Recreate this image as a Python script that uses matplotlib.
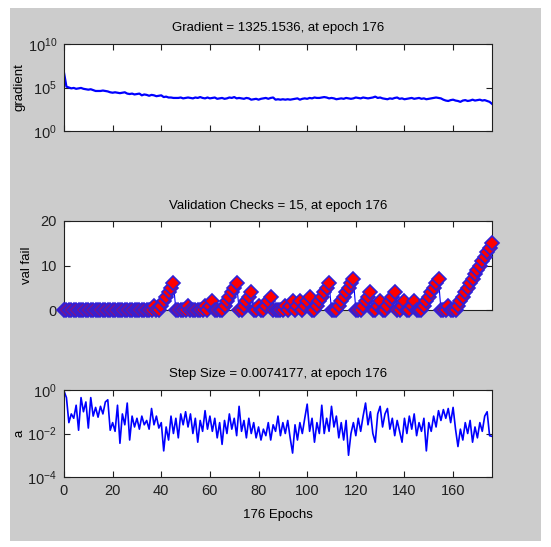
import matplotlib
matplotlib.use('Agg')
import matplotlib.pyplot as plt
import numpy as np
from matplotlib import font_manager
from matplotlib.patches import Rectangle
from matplotlib.ticker import NullLocator

# training record, epochs 0..176
epochs = np.arange(177)

# gradient, stored as log10 values
grad_log10 = [
    6.7, 5.1, 5.0, 4.9, 4.95, 4.85, 4.9, 4.95, 4.85, 4.8,
    4.75, 4.8, 4.7, 4.6, 4.6, 4.6, 4.65, 4.6, 4.55, 4.45,
    4.4, 4.45, 4.4, 4.35, 4.4, 4.45, 4.3, 4.25, 4.3, 4.2,
    4.25, 4.3, 4.1, 4.2, 4.15, 4.05, 4.15, 4.1, 4.0, 4.05,
    4.1, 3.9, 3.95, 3.85, 3.85, 3.8, 3.8, 3.8, 3.85, 3.75,
    3.8, 3.85, 3.8, 3.75, 3.85, 3.8, 3.9, 3.8, 3.75, 3.85,
    3.75, 3.8, 3.85, 3.7, 3.75, 3.8, 3.7, 3.75, 3.85, 3.8,
    3.9, 3.75, 3.8, 3.75, 3.7, 3.8, 3.75, 3.6, 3.65, 3.7,
    3.6, 3.7, 3.75, 3.8, 3.7, 3.8, 3.85, 3.6, 3.65, 3.6,
    3.65, 3.6, 3.65, 3.6, 3.65, 3.7, 3.75, 3.6, 3.7, 3.75,
    3.7, 3.8, 3.75, 3.85, 3.8, 3.8, 3.85, 3.9, 3.85, 3.75,
    3.8, 3.75, 3.65, 3.7, 3.75, 3.7, 3.8, 3.75, 3.7, 3.75,
    3.85, 3.8, 3.75, 3.85, 3.8, 3.75, 3.8, 3.85, 3.95, 3.8,
    3.85, 3.75, 3.7, 3.65, 3.75, 3.7, 3.8, 3.85, 3.7, 3.75,
    3.65, 3.7, 3.75, 3.8, 3.7, 3.75, 3.8, 3.7, 3.75, 3.65,
    3.7, 3.75, 3.8, 3.85, 3.8, 3.75, 3.6, 3.5, 3.45, 3.55,
    3.6, 3.5, 3.45, 3.35, 3.5, 3.55, 3.45, 3.5, 3.6, 3.5,
    3.55, 3.6, 3.5, 3.55, 3.45, 3.35, 3.12,
]

# validation checks
val_fail = [
    0, 0, 0, 0, 0, 0, 0, 0, 0, 0,
    0, 0, 0, 0, 0, 0, 0, 0, 0, 0,
    0, 0, 0, 0, 0, 0, 0, 0, 0, 0,
    0, 0, 0, 0, 0, 0, 0, 1, 0, 0,
    1, 2, 3, 4, 5, 6, 0, 0, 0, 0,
    0, 1, 0, 0, 0, 0, 0, 0, 1, 0,
    1, 2, 0, 0, 0, 0, 1, 2, 3, 4,
    5, 6, 0, 0, 1, 2, 3, 4, 0, 0,
    1, 0, 0, 1, 2, 3, 0, 0, 0, 0,
    0, 1, 0, 1, 2, 0, 1, 2, 0, 1,
    2, 3, 0, 0, 1, 2, 3, 4, 5, 6,
    0, 0, 0, 1, 2, 3, 4, 5, 6, 7,
    0, 0, 0, 1, 2, 3, 4, 0, 0, 1,
    2, 0, 0, 1, 2, 3, 4, 0, 0, 1,
    2, 0, 0, 1, 2, 0, 0, 0, 1, 2,
    3, 4, 5, 6, 7, 0, 0, 0, 1, 0,
    0, 0, 1, 2, 3, 4, 5, 6, 7, 8,
    9, 10, 11, 12, 13, 14, 15,
]

# step size (mu), log10 values
step_log10 = [
    -0.05, -0.35, -1.5, -1.1, -1.3, -0.7, -1.85, -0.35, -1.0, -0.55,
    -1.75, -0.35, -1.2, -0.8, -1.25, -0.75, -1.1, -0.55, -0.45, -1.85,
    -1.5, -1.9, -0.7, -2.45, -1.1, -1.6, -0.6, -2.3, -1.2, -1.7,
    -1.3, -1.8, -1.2, -1.6, -1.4, -1.8, -0.85, -1.6, -1.2, -1.75,
    -1.5, -2.8, -1.7, -2.3, -1.2, -2.0, -1.3, -2.2, -1.1, -1.6,
    -1.0, -1.7, -1.1, -2.0, -1.3, -2.4, -1.4, -1.9, -0.95, -1.8,
    -1.2, -1.9, -1.3, -2.2, -1.5, -2.5, -1.4, -2.0, -1.1, -1.8,
    -1.3, -2.1, -0.75, -1.9, -1.4, -2.2, -1.3, -2.0, -1.5, -2.2,
    -1.7, -2.3, -1.8, -2.1, -1.5, -2.3, -1.6, -1.9, -1.2, -2.1,
    -1.5, -2.0, -1.4, -2.2, -2.9, -1.6, -2.3, -1.5, -2.0, -1.3,
    -0.65, -1.9, -1.3, -2.4, -1.5, -2.0, -0.7, -2.0, -1.3, -1.9,
    -0.75, -1.7, -1.2, -2.2, -1.5, -2.3, -1.4, -3.0, -2.0, -1.5,
    -2.1, -1.3, -1.9, -1.2, -0.6, -1.6, -1.0, -2.0, -2.4, -1.1,
    -0.75, -1.7, -1.1, -0.85, -1.8, -1.3, -2.1, -1.4, -1.9, -2.4,
    -1.3, -2.0, -1.2, -1.8, -1.1, -2.1, -1.5, -1.9, -1.3, -2.8,
    -1.5, -1.9, -1.2, -1.7, -0.95, -1.4, -0.9, -1.3, -0.85, -1.5,
    -0.8, -1.8, -2.6, -1.8, -2.3, -1.5, -2.0, -1.4, -2.4, -1.7,
    -2.2, -1.5, -1.9, -1.2, -1.0, -2.1, -2.13,
]

gradient = 10.0 ** np.array(grad_log10)
step_size = 10.0 ** np.array(step_log10)

names = {f.name for f in font_manager.fontManager.ttflist}
base_font = 'Liberation Sans Narrow' if 'Liberation Sans Narrow' in names else 'Liberation Sans'
plt.rcParams['font.family'] = [base_font, 'DejaVu Sans']
plt.rcParams['mathtext.fontset'] = 'custom'
plt.rcParams['mathtext.rm'] = base_font
plt.rcParams['mathtext.default'] = 'regular'

W, H = 551, 547
fig = plt.figure(figsize=(W / 100, H / 100), dpi=100, facecolor='white')
fig.add_artist(Rectangle((10 / W, 6 / H), 531 / W, 533 / H, transform=fig.transFigure,
                         facecolor='#cccccc', edgecolor='none', zorder=-5))

left, width = 64 / W, 428 / W
ax1 = fig.add_axes([left, 1 - 131 / H, width, 87 / H])
ax2 = fig.add_axes([left, 1 - 310 / H, width, 89 / H])
ax3 = fig.add_axes([left, 1 - 477 / H, width, 87 / H])

blue = '#0000ff'
title_size = 9.5
label_size = 10.5

ax1.semilogy(epochs, gradient, color=blue, lw=1.6)
ax1.set_ylim(1, 1e10)
ax1.set_yticks([1, 1e5, 1e10])
ax1.set_yticklabels(['$10^{0}$', '$10^{5}$', '$10^{10}$'])
ax1.set_title('Gradient = 1325.1536, at epoch 176', fontsize=title_size, pad=9)
ax1.set_ylabel('gradient', fontsize=title_size)
ax1.yaxis.set_label_coords(-0.09, 0.5)

ax2.plot(epochs, val_fail, color=blue, lw=0.8, marker='D', ms=7.5,
         mfc='red', mec='#3020d8', mew=1.2, clip_on=False, zorder=3)
ax2.set_ylim(0, 20)
ax2.set_yticks([0, 10, 20])
ax2.set_title('Validation Checks = 15, at epoch 176', fontsize=title_size, pad=9)
ax2.set_ylabel('val fail', fontsize=title_size)
ax2.yaxis.set_label_coords(-0.072, 0.5)

ax3.semilogy(epochs, step_size, color=blue, lw=1.2)
ax3.set_ylim(1e-4, 1)
ax3.set_yticks([1e-4, 1e-2, 1])
ax3.set_yticklabels(['$10^{-4}$', '$10^{-2}$', '$10^{0}$'])
ax3.set_title('Step Size = 0.0074177, at epoch 176', fontsize=title_size, pad=9)
ax3.set_ylabel('a', fontsize=title_size)
ax3.yaxis.set_label_coords(-0.09, 0.5)
ax3.set_xlabel('176 Epochs', fontsize=title_size, labelpad=8)

for ax in (ax1, ax2, ax3):
    ax.set_xlim(0, 176)
    ax.set_xticks(np.arange(0, 161, 20))
    ax.yaxis.set_minor_locator(NullLocator())
    ax.tick_params(direction='in', top=True, right=True, length=4, width=0.8,
                   labelsize=label_size, pad=5, colors='#202020')
    ax.set_facecolor('white')
    for s in ax.spines.values():
        s.set_linewidth(0.8)
        s.set_color('#202020')
for ax in (ax1, ax2):
    ax.tick_params(labelbottom=False)

fig.savefig('out.png', dpi=100, facecolor='white')
